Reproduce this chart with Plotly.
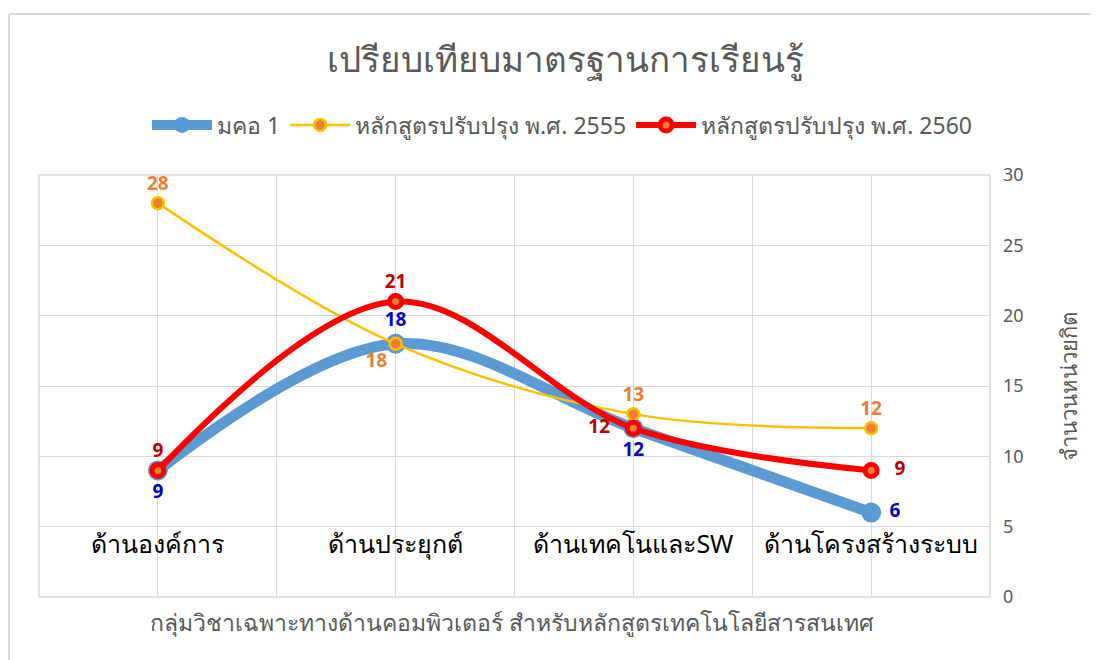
import plotly.graph_objects as go

# categories and series values
categories = ["ด้านองค์การ", "ด้านประยุกต์", "ด้านเทคโนและSW", "ด้านโครงสร้างระบบ"]
tqf1 = [9, 18, 12, 6]
rev2555 = [28, 18, 13, 12]
rev2560 = [9, 21, 12, 9]

series_names = ["มคอ 1", "หลักสูตรปรับปรุง พ.ศ. 2555", "หลักสูตรปรับปรุง พ.ศ. 2560"]
title_text = "เปรียบเทียบมาตรฐานการเรียนรู้"
x_title = "กลุ่มวิชาเฉพาะทางด้านคอมพิวเตอร์ สำหรับหลักสูตรเทคโนโลยีสารสนเทศ"
y_title = "จำนวนหน่วยกิต"

FONT = "Noto Sans, Open Sans, sans-serif"
GREY = "#595959"
GRID = "#D9D9D9"
NB = "\u00a0"

# the page body has an 8px margin, so the figure is drawn 8px in from the corner
OFF = 8
PAGE_W, PAGE_H = 1099, 660
W, H = PAGE_W - OFF, PAGE_H - OFF
# plot area in page pixels: x 39..990, y 175..597
L, R, T, B = 39 - OFF, PAGE_W - 990, 175 - OFF, PAGE_H - 597
pw, ph = W - L - R, H - T - B


def px(x):
    # page x pixel -> paper fraction
    return (x - OFF - L) / pw


def py(y):
    # page y pixel -> paper fraction
    return (H - B - (y - OFF)) / ph


xs = list(range(len(categories)))

fig = go.Figure()

fig.add_trace(go.Scatter(
    x=xs, y=tqf1, name=series_names[0], mode="lines+markers+text",
    line=dict(color="#5B9BD5", width=11, shape="spline", smoothing=1),
    marker=dict(color="#5B9BD5", size=20),
    text=[str(v) for v in tqf1[:3]] + [NB + str(tqf1[3])],
    textposition=["bottom center", "top center", "bottom center", "middle right"],
    textfont=dict(color="#0000CC", size=19, family=FONT, weight="bold"),
    cliponaxis=False))

fig.add_trace(go.Scatter(
    x=xs, y=rev2555, name=series_names[1], mode="lines+markers+text",
    line=dict(color="#FFC000", width=2.5, shape="spline", smoothing=1),
    marker=dict(color="#ED7D31", size=12, line=dict(color="#FFC000", width=2.5)),
    text=[str(v) for v in rev2555],
    textposition=["top center", "bottom left", "top center", "top center"],
    textfont=dict(color="#ED7D31", size=19, family=FONT, weight="bold"),
    cliponaxis=False))

fig.add_trace(go.Scatter(
    x=xs, y=rev2560, name=series_names[2], mode="lines+markers+text",
    line=dict(color="#FF0000", width=6, shape="spline", smoothing=1),
    marker=dict(color="#ED7D31", size=12, line=dict(color="#FF0000", width=5)),
    text=[str(rev2560[0]), str(rev2560[1]), str(rev2560[2]) + NB * 3,
          NB * 3 + str(rev2560[3])],
    textposition=["top center", "top center", "middle left", "middle right"],
    textfont=dict(color="#C00000", size=19, family=FONT, weight="bold"),
    cliponaxis=False))

fig.update_layout(
    width=W, height=H,
    margin=dict(l=L, r=R, t=T, b=B),
    paper_bgcolor="white", plot_bgcolor="white",
    font=dict(family=FONT, color=GREY, size=17),
    title=dict(text=title_text, x=(565 - OFF) / W, xanchor="center",
               y=1 - (60 - OFF) / H, yanchor="middle",
               font=dict(size=35, color=GREY, family=FONT)),
    showlegend=True,
    legend=dict(orientation="h", x=px(562), xanchor="center",
                y=py(125), yanchor="middle", itemwidth=60,
                font=dict(size=23, color=GREY, family=FONT),
                bgcolor="rgba(0,0,0,0)"),
    xaxis=dict(range=[-0.5, 3.5], tickvals=xs, ticktext=categories,
               anchor="free", position=5 / 30, showline=False, ticks="",
               zeroline=False, showgrid=True, gridcolor=GRID, gridwidth=1,
               tickfont=dict(size=25, color="black", family=FONT),
               minor=dict(tickvals=[0.5, 1.5, 2.5], showgrid=True,
                          gridcolor=GRID, gridwidth=1)),
    yaxis=dict(range=[0, 30], dtick=5, side="right", showgrid=True,
               gridcolor=GRID, gridwidth=1, zeroline=False, showline=False,
               ticks="", ticklabelstandoff=12,
               tickfont=dict(size=18, color=GREY, family=FONT)),
    annotations=[
        dict(text=x_title, xref="paper", yref="paper",
             x=px(512), y=py(622),
             xanchor="center", yanchor="middle", showarrow=False,
             font=dict(size=23, color=GREY, family=FONT)),
        dict(text=y_title, xref="paper", yref="paper",
             x=px(1068), y=py(387),
             xanchor="center", yanchor="middle", showarrow=False,
             textangle=-90, font=dict(size=22, color=GREY, family=FONT)),
    ],
    shapes=[
        # plot-area frame
        dict(type="rect", xref="x domain", yref="y domain", x0=0, x1=1, y0=0, y1=1,
             line=dict(color=GRID, width=1.5), layer="below"),
        # chart-area border (top and left edges visible)
        dict(type="line", xref="paper", yref="paper",
             x0=px(9), x1=px(PAGE_W), y0=py(14), y1=py(14),
             line=dict(color=GRID, width=2)),
        dict(type="line", xref="paper", yref="paper",
             x0=px(9), x1=px(9), y0=py(14), y1=py(PAGE_H),
             line=dict(color=GRID, width=2)),
    ],
)

fig.write_html("out.html")
